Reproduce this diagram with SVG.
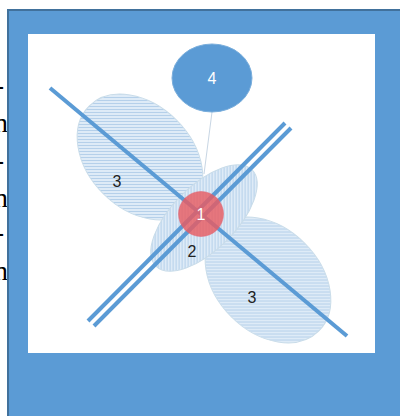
<svg xmlns="http://www.w3.org/2000/svg" width="400" height="416" viewBox="0 0 400 416">
  <defs>
    <pattern id="hstripe" width="6" height="3" patternUnits="userSpaceOnUse" patternTransform="rotate(-45)">
      <rect width="6" height="3" fill="#deebf7"/>
      <rect y="0" width="6" height="1" fill="#b5d0ea"/>
    </pattern>
    <pattern id="vstripe" width="3" height="6" patternUnits="userSpaceOnUse" patternTransform="rotate(45)">
      <rect width="3" height="6" fill="#deebf7"/>
      <rect x="0" width="1" height="6" fill="#b5d0ea"/>
    </pattern>
  </defs>
  <style>
    .side { font-family: "Liberation Serif", serif; font-size: 28px; fill: #000; }
    .lbl { font-family: "Liberation Sans", Arial, sans-serif; font-size: 16px; text-anchor: middle; dominant-baseline: central; }
    .petal { stroke: #c9dce9; stroke-width: 1; }
    .bar { stroke: #5b9bd5; stroke-width: 4; fill: none; }
  </style>

  <g id="side-text">
    <text class="side" x="4" y="94" text-anchor="end">-</text>
    <text class="side" x="8" y="132" text-anchor="end">n</text>
    <text class="side" x="4" y="169" text-anchor="end">-</text>
    <text class="side" x="8" y="207" text-anchor="end">n</text>
    <text class="side" x="4" y="241" text-anchor="end">-</text>
    <text class="side" x="8" y="280" text-anchor="end">n</text>
  </g>

  <rect x="8" y="10" width="400" height="420" fill="#5b9bd5" stroke="#41719c" stroke-width="2"/>
  <rect x="28" y="34" width="347" height="319" fill="#ffffff"/>

  <g id="node-3a">
    <ellipse class="petal" cx="140" cy="157" rx="72" ry="52" transform="rotate(45 140 157)" fill="url(#hstripe)"/>
    <text class="lbl" x="117" y="181" fill="#222">3</text>
  </g>
  <g id="node-3b">
    <ellipse class="petal" cx="268" cy="280" rx="72" ry="52" transform="rotate(45 268 280)" fill="url(#hstripe)"/>
    <text class="lbl" x="252" y="297" fill="#222">3</text>
  </g>

  <g id="connectors">
    <line x1="212" y1="112" x2="204" y2="174" stroke="#c8d6e4" stroke-width="1"/>
  </g>

  <g id="node-2">
    <ellipse class="petal" cx="204" cy="218" rx="68" ry="32" transform="rotate(-45 204 218)" fill="url(#vstripe)"/>
    <text class="lbl" x="192" y="251" fill="#222">2</text>
  </g>

  <g id="lines">
    <line class="bar" x1="50" y1="88" x2="347" y2="336"/>
    <line class="bar" x1="88" y1="321" x2="285" y2="123"/>
    <line class="bar" x1="94" y1="326" x2="291" y2="128"/>
  </g>

  <g id="node-1">
    <circle cx="201" cy="214" r="22.5" fill="#e85c62" fill-opacity="0.82" stroke="#e06070" stroke-width="0.5"/>
    <text class="lbl" x="201" y="214" fill="#ffffff">1</text>
  </g>

  <g id="node-4">
    <ellipse cx="212" cy="78" rx="40" ry="34" fill="#5b9bd5" stroke="#7aaedc" stroke-width="1"/>
    <text class="lbl" x="212" y="78" fill="#ffffff">4</text>
  </g>
</svg>
